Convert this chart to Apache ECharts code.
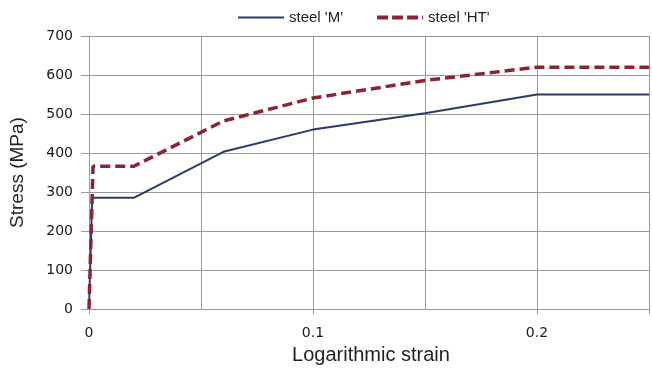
<!DOCTYPE html>
<html><head><meta charset="utf-8">
<script src="https://cdn.jsdelivr.net/npm/echarts@6/dist/echarts.min.js"></script>
<style>html,body{margin:0;padding:0;background:#fff}#c{width:652px;height:371px}</style>
</head><body><div id="c"></div>
<script>
const seriesNames = ["steel 'M'", "steel 'HT'"];
const strainM = [0, 0.0014, 0.02, 0.06, 0.1, 0.15, 0.2, 0.25];
const stressM = [0, 285, 285, 403, 460, 502, 550, 550];
const strainHT = [0, 0.0018, 0.02, 0.06, 0.1, 0.15, 0.2, 0.25];
const stressHT = [0, 366, 366, 482, 541, 586, 620, 620];
const xTicks = [0, 0.1, 0.2];
const yTicks = [0, 100, 200, 300, 400, 500, 600, 700];

const chart = echarts.init(document.getElementById('c'));
const gridCol = '#9a9a9a';
const colM = '#2b3a6b', colHT = '#8a2434';
chart.setOption({
  animation: false,
  backgroundColor: '#fff',
  legend: {
    top: 5, left: 233, itemWidth: 46, itemHeight: 4, itemGap: 34,
    textStyle: {fontFamily: 'Liberation Sans', fontSize: 15, color: '#222'},
    data: [
      {name: seriesNames[0], icon: 'path://M0,1h46v2h-46z'},
      {name: seriesNames[1], icon: 'path://M0,0h11v4h-11z M15,0h11v4h-11z M30,0h11v4h-11z M45,0h1v4h-1z'}
    ]
  },
  grid: {left: 89, top: 36, bottom: 62, right: 0},
  xAxis: [{
    type: 'value', min: 0, max: 0.25, interval: 0.05,
    axisLine: {lineStyle: {color: gridCol}},
    axisTick: {show: false},
    splitLine: {show: true, lineStyle: {color: gridCol, width: 1}},
    axisLabel: {
      fontFamily: 'DejaVu Sans', fontSize: 14, color: '#1a1a1a', margin: 17,
      formatter: v => (xTicks.some(t => Math.abs(t - v) < 1e-9) ? String(v) : '')
    }
  }, {
    type: 'value', min: 0, max: 0.25, interval: 0.1, position: 'bottom',
    axisLine: {show: false}, splitLine: {show: false}, axisLabel: {show: false},
    axisTick: {show: true, inside: false, length: 5, lineStyle: {color: gridCol}}
  }],
  yAxis: {
    type: 'value', min: 0, max: 700, interval: 100,
    axisLine: {show: true, lineStyle: {color: gridCol}},
    axisTick: {show: true, length: 8, lineStyle: {color: gridCol}},
    splitLine: {show: true, lineStyle: {color: gridCol, width: 1}},
    axisLabel: {fontFamily: 'DejaVu Sans', fontSize: 14, color: '#1a1a1a', margin: 16,
      formatter: v => (yTicks.includes(v) ? String(v) : '')},
    name: 'Stress (MPa)', nameLocation: 'middle', nameGap: 62,
    nameTextStyle: {fontFamily: 'Liberation Sans', fontSize: 19, color: '#222'}
  },
  graphic: [{
    type: 'text',
    style: {x: 371, y: 355, text: 'Logarithmic strain', font: '20px "Liberation Sans"', fill: '#222',
            textAlign: 'center', textVerticalAlign: 'middle'}
  }],
  series: [
    {name: seriesNames[0], type: 'line', symbol: 'none', xAxisIndex: 0,
     data: strainM.map((x, i) => [x, stressM[i]]),
     lineStyle: {color: colM, width: 2}, itemStyle: {color: colM}},
    {name: seriesNames[1], type: 'line', symbol: 'none', xAxisIndex: 0,
     data: strainHT.map((x, i) => [x, stressHT[i]]),
     lineStyle: {color: colHT, width: 3.5, type: [10, 5]}, itemStyle: {color: colHT}}
  ]
});
</script></body></html>
